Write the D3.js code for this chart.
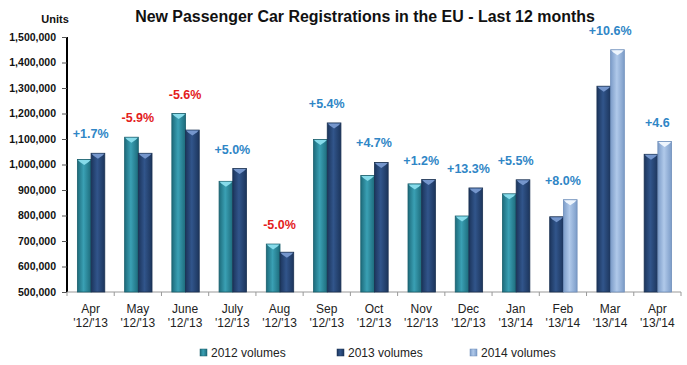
<!DOCTYPE html>
<html><head><meta charset="utf-8">
<script src="https://cdn.jsdelivr.net/npm/d3@7"></script>
<style>
html,body{margin:0;padding:0;background:#fff;}
svg{display:block;font-family:"Liberation Sans",Arial,sans-serif;}
</style></head>
<body>
<svg id="chart" width="687" height="365"></svg>
<script>
// ---- data ----
const months = ["Apr","May","June","July","Aug","Sep","Oct","Nov","Dec","Jan","Feb","Mar","Apr"];
const periods = ["'12/'13","'12/'13","'12/'13","'12/'13","'12/'13","'12/'13","'12/'13","'12/'13","'12/'13","'13/'14","'13/'14","'13/'14","'13/'14"];
const vol2012 = [1020000,1107000,1200000,934000,688000,1098000,957000,924000,798000,885000,null,null,null];
const vol2013 = [1044000,1044000,1135000,984000,656000,1163000,1008000,941000,908000,940000,795000,1307000,1040000];
const vol2014 = [null,null,null,null,null,null,null,null,null,null,862000,1450000,1090000];
const changes = ["+1.7%","-5.9%","-5.6%","+5.0%","-5.0%","+5.4%","+4.7%","+1.2%","+13.3%","+5.5%","+8.0%","+10.6%","+4.6"];
const yTicks = [500000,600000,700000,800000,900000,1000000,1100000,1200000,1300000,1400000,1500000];
const seriesNames = ["2012 volumes","2013 volumes","2014 volumes"];

(function(){
const svg = d3.select("#chart");
const defs = svg.append("defs");
const palette = [
  {edge:"#1d6b7b", mid:"#3aa0b4", cap:"#86dbea", stroke:"#1b5f6d"},
  {edge:"#1c355c", mid:"#31558b", cap:"#7596cc", stroke:"#1a3152"},
  {edge:"#7c9cc8", mid:"#b0c9ea", cap:"#eef5fd", stroke:"#6f8fbb"}
];
palette.forEach((p,i)=>{
  const g = defs.append("linearGradient").attr("id","g"+i).attr("x1","0").attr("x2","1").attr("y1","0").attr("y2","0");
  g.append("stop").attr("offset","0%").attr("stop-color",p.edge);
  g.append("stop").attr("offset","45%").attr("stop-color",p.mid);
  g.append("stop").attr("offset","100%").attr("stop-color",p.edge);
});

const pL = 67, pR = 681, pT = 37, pB = 292;
const y = d3.scaleLinear().domain([500000,1500000]).range([pB, pT]);
const x0 = d3.scaleBand().domain(d3.range(months.length)).range([pL,pR]).padding(0);
const bw = x0.bandwidth();
const x1 = d3.scaleBand().domain([0,1]).range([bw*0.22, bw*0.80]).padding(0);

// title
const title = svg.append("text").attr("x",365).attr("y",22).attr("text-anchor","middle")
  .attr("font-weight","bold").attr("font-size",17).attr("fill","#111")
  .attr("font-family","'Liberation Sans Narrow','Liberation Sans',Arial,sans-serif")
  .text("New Passenger Car Registrations in the EU - Last 12 months");
const tw = title.node().getComputedTextLength();
title.attr("font-size", Math.min(19, 17*460/tw));

svg.append("text").attr("x",55).attr("y",23).attr("text-anchor","middle")
  .attr("font-weight","bold").attr("font-size",11).attr("fill","#111").text("Units");

// y axis
const yAxis = svg.append("g").attr("transform",`translate(${pL},0)`)
  .call(d3.axisLeft(y).tickValues(yTicks).tickSize(5).tickPadding(6).tickFormat(d3.format(",")));
yAxis.select(".domain").attr("stroke","#000").attr("stroke-width",2).attr("d",`M0,${pT}V${pB}`);
yAxis.selectAll(".tick line").attr("stroke","#555");
yAxis.selectAll("text").attr("font-size",10.5).attr("font-weight","bold").attr("fill","#111").attr("font-family","Liberation Sans, Arial, sans-serif");

// x axis
const xg = svg.append("g").attr("transform",`translate(0,${pB})`);
xg.append("line").attr("x1",pL).attr("x2",pR).attr("stroke","#999").attr("stroke-width",1);
xg.selectAll("line.t").data(d3.range(months.length+1)).join("line").attr("class","t")
  .attr("x1",i=>i<months.length?x0(i):pR).attr("x2",i=>i<months.length?x0(i):pR)
  .attr("y1",0).attr("y2",4).attr("stroke","#999");
const xl = xg.selectAll("text.m").data(months).join("text").attr("class","m")
  .attr("x",(d,i)=>x0(i)+bw/2).attr("text-anchor","middle").attr("font-size",12).attr("fill","#222");
xl.append("tspan").attr("x",(d,i)=>x0(i)+bw/2).attr("y",21).text(d=>d);
xl.append("tspan").attr("x",(d,i)=>x0(i)+bw/2).attr("y",35).text((d,i)=>periods[i]);

// bars
const all = [vol2012, vol2013, vol2014];
const bars = [];
months.forEach((m,i)=>{
  let slot = 0;
  all.forEach((arr,s)=>{
    if(arr[i]!=null){ bars.push({i, s, slot, v:arr[i]}); slot++; }
  });
});
const bw1 = x1.bandwidth();
const bg = svg.append("g");
bg.selectAll("rect").data(bars).join("rect")
  .attr("x",d=>x0(d.i)+x1(d.slot)).attr("y",d=>y(d.v))
  .attr("width",bw1).attr("height",d=>pB-y(d.v))
  .attr("fill",d=>`url(#g${d.s})`).attr("stroke",d=>palette[d.s].stroke).attr("stroke-width",0.8);
bg.selectAll("path").data(bars).join("path")
  .attr("d",d=>{const xx=x0(d.i)+x1(d.slot), yy=y(d.v), w=bw1;
    return `M${xx+0.5},${yy+0.5}L${xx+w-0.5},${yy+0.5}L${xx+w-2.5},${yy+2.5}L${xx+w/2},${yy+5.5}L${xx+2.5},${yy+2.5}Z`;})
  .attr("fill",d=>palette[d.s].cap);

// change labels
svg.append("g").selectAll("text").data(changes).join("text")
  .attr("x",(d,i)=>x0(i)+bw/2)
  .attr("y",(d,i)=>y(d3.max(all, a=>a[i]))-15)
  .attr("text-anchor","middle").attr("font-weight","bold").attr("font-size",12.5)
  .attr("fill",d=>d.startsWith("-")?"#e3201c":"#2f86c6").text(d=>d);

// legend
const lx = [200,337,470];
const lg = svg.append("g").selectAll("g").data(seriesNames).join("g")
  .attr("transform",(d,i)=>`translate(${lx[i]},349)`);
lg.append("rect").attr("width",7).attr("height",7).attr("fill",(d,i)=>`url(#g${i})`).attr("stroke",(d,i)=>palette[i].stroke).attr("stroke-width",0.5);
lg.append("text").attr("x",11).attr("y",8).attr("font-size",12).attr("fill","#222").text(d=>d);
})();
</script>
</body></html>
